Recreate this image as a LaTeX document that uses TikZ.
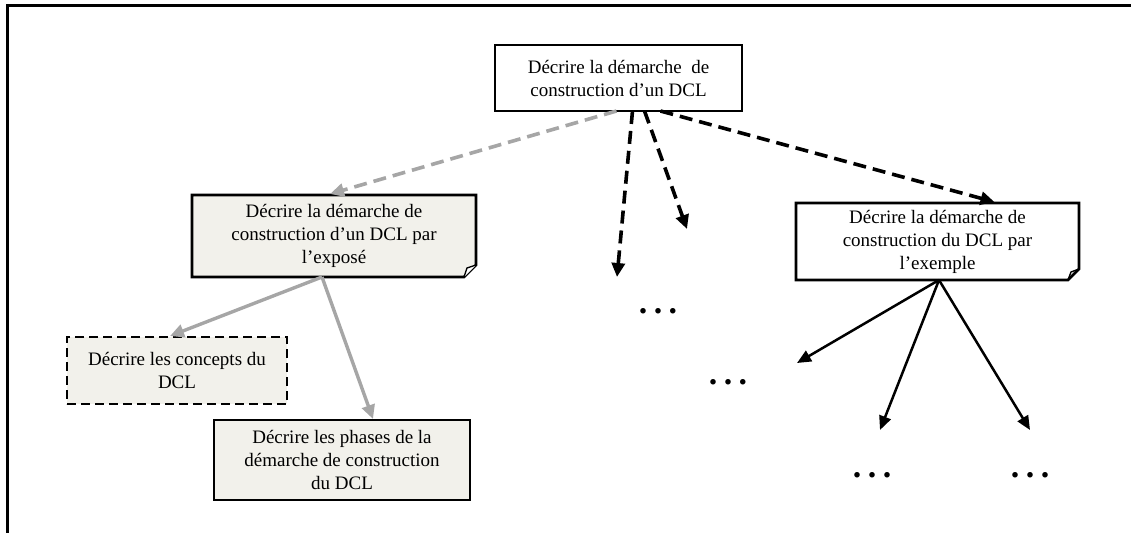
\documentclass[tikz,border=0pt]{standalone}
\usepackage{fontspec}
\setmainfont{Liberation Serif}
\usetikzlibrary{arrows.meta,calc}
\definecolor{boxfill}{RGB}{242,241,235}
\definecolor{arrgray}{RGB}{166,166,166}
\tikzset{
  box/.style={inner sep=0pt,outer sep=0pt,align=center,font=\fontsize{19}{23}\selectfont},
  plainbox/.style={box,draw=black,line width=2.6pt},
  dashbox/.style={box,draw=black,line width=2.6pt,dash pattern=on 9pt off 5pt,fill=boxfill},
  graydash/.style={draw=arrgray,line width=3.6pt,dash pattern=on 13pt off 7pt,-{Triangle[length=14pt,width=13pt]}},
  blackdash/.style={draw=black,line width=3.6pt,dash pattern=on 13pt off 7pt,-{Triangle[length=14pt,width=13pt]}},
  graysolid/.style={draw=arrgray,line width=3.4pt,-{Triangle[length=14pt,width=13pt]}},
  blacksolid/.style={draw=black,line width=2.5pt,-{Triangle[length=14pt,width=12pt]}},
  dots/.style={inner sep=0pt,font=\fontsize{34}{34}\selectfont\bfseries}
}
\newcommand{\threedots}{.\hspace{6.5pt}.\hspace{6.5pt}.}
\begin{document}
\begin{tikzpicture}[x=1pt,y=-1pt]
\useasboundingbox (0,0) rectangle (1131,533);
% frame (cropped)
\draw[line width=3pt] (1131,5) -- (7,5) -- (7,533);

% top box
\node[plainbox,minimum width=247pt,minimum height=66pt] (top) at (618.5,78)
  {Décrire la démarche\ \ de\\construction d’un DCL};

% expose box (folded corner)
\node[box,minimum width=284pt,minimum height=82pt] (expo) at (334,236) {};
\fill[boxfill] (expo.north west) -- (expo.north east) -- ([yshift=12pt]expo.south east)
  -- ([xshift=-12pt]expo.south east) -- (expo.south west) -- cycle;
\draw[line width=2.6pt,line join=miter] (expo.north west) -- (expo.north east) -- ([yshift=12pt]expo.south east)
  -- ([xshift=-12pt]expo.south east) -- (expo.south west) -- cycle;
\filldraw[fill=white,line width=1.4pt] ([xshift=-12pt]expo.south east) -- ([xshift=-9pt,yshift=9pt]expo.south east) -- ([yshift=12pt]expo.south east);
\node[box] at (expo.center) {Décrire la démarche de\\construction d’un DCL par\\l’exposé};

% exemple box (folded corner)
\node[box,minimum width=283pt,minimum height=77pt] (exem) at (937.5,241.5) {};
\fill[white] (exem.north west) -- (exem.north east) -- ([yshift=11pt]exem.south east)
  -- ([xshift=-11pt]exem.south east) -- (exem.south west) -- cycle;
\draw[line width=2.6pt,line join=miter] (exem.north west) -- (exem.north east) -- ([yshift=11pt]exem.south east)
  -- ([xshift=-11pt]exem.south east) -- (exem.south west) -- cycle;
\draw[line width=1.4pt] ([xshift=-11pt]exem.south east) -- ([xshift=-8pt,yshift=8pt]exem.south east) -- ([yshift=11pt]exem.south east);
\node[box] at (exem.center) {Décrire la démarche de\\construction du DCL par\\l’exemple};

% concepts box
\node[dashbox,minimum width=220pt,minimum height=67pt] (conc) at (177,370.5)
  {Décrire les concepts du\\DCL};

% phases box
\node[plainbox,fill=boxfill,minimum width=256pt,minimum height=80pt] (phas) at (342,460)
  {Décrire les phases de la\\démarche de construction\\du DCL};

% dots
\node[dots] (d1) at (658,311) {\threedots};
\node[dots] (d2) at (728,382) {\threedots};
\node[dots] (d3) at (872,475) {\threedots};
\node[dots] (d4) at (1030,475) {\threedots};

% free end points
\coordinate (e1) at (617,277);
\coordinate (e2) at (687,229);
\coordinate (f1) at (797,363);
\coordinate (f2) at (880,430);
\coordinate (f3) at (1030,430);

% arrows from top box
\draw[graydash] ([xshift=-2pt]top.south) -- ([xshift=-4pt,yshift=1pt]expo.north);
\draw[blackdash] ([xshift=14pt]top.south) -- (e1);
\draw[blackdash] ([xshift=26pt]top.south) -- (e2);
\draw[blackdash] ([xshift=42pt]top.south) -- ([xshift=57pt,yshift=1pt]exem.north);

% arrows from expose box
\draw[graysolid] ([xshift=-12pt]expo.south) -- ([xshift=-7pt,yshift=1pt]conc.north);
\draw[graysolid] ([xshift=-12pt]expo.south) -- ([xshift=31pt,yshift=1pt]phas.north);

% arrows from exemple box
\draw[blacksolid] ([xshift=1.5pt]exem.south) -- (f1);
\draw[blacksolid] ([xshift=1.5pt]exem.south) -- (f2);
\draw[blacksolid] ([xshift=1.5pt]exem.south) -- (f3);
\end{tikzpicture}
\end{document}
